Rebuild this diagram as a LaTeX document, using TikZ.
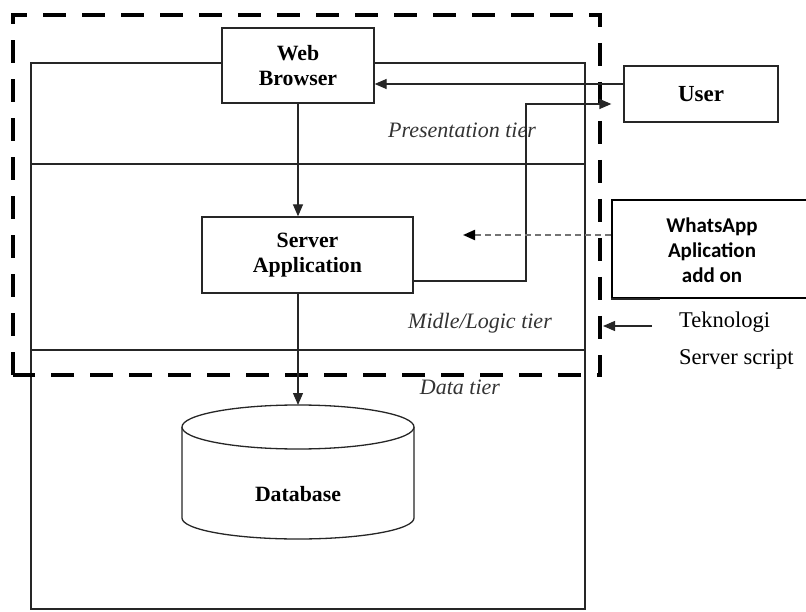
\documentclass[tikz,border=0pt]{standalone}
\usepackage{fontspec}
\setmainfont{Liberation Serif}
\newfontfamily\calib{Carlito}
\usetikzlibrary{arrows.meta}
\tikzset{
  thinln/.style={line width=1.3pt, draw=black!85},
  boxnode/.style={thinln, fill=white, inner sep=0pt, align=center,
     font=\fontsize{21.8}{25}\selectfont\bfseries},
  tierlbl/.style={font=\fontsize{22}{24}\selectfont\itshape, text=black!80, inner sep=0pt},
  arr/.style={thinln, -{Triangle[length=12pt,width=10pt]}},
  bigdash/.style={line width=4.5pt, dash pattern=on 23pt off 16pt},
}
\begin{document}
\begin{tikzpicture}[x=1pt,y=-1pt]
\useasboundingbox (0,0) rectangle (806,612);
% outer tier frame
\draw[thinln] (31,63) rectangle (585,609);
\draw[thinln] (31,164) -- (585,164);
\draw[thinln] (31,350) -- (585,350);
% dashed boundary
\draw[bigdash] (13,375) -- (13,15) -- (600,15) -- (600,375) -- cycle;
% boxes
\node[boxnode, minimum width=152pt, minimum height=75pt] (wb) at (298,65.5) {Web\\Browser};
\node[boxnode, minimum width=211pt, minimum height=76pt] (sa) at (307.5,255) {Server\\Application};
\node[boxnode, minimum width=154pt, minimum height=56pt, font=\fontsize{23}{25}\selectfont\bfseries] (user) at (701,94) {User};
\node[draw=black, line width=2pt, fill=white, minimum width=200pt, minimum height=98pt, anchor=north west, inner sep=0pt] (wa) at (611,199) {};
\node[font=\calib\fontsize{21}{25}\selectfont\bfseries, align=center] (watxt) at (712,250) {WhatsApp\\Aplication\\add on};
\draw[thinln] (611,299) -- (660,299);
% database
\draw[thinln, fill=white] (182,427) -- (182,518) arc[start angle=180, end angle=0, x radius=116, y radius=21] -- (414,427);
\draw[thinln, fill=white] (298,427) ellipse[x radius=116, y radius=22];
\coordinate (dbtop) at (298,405);
\node[font=\fontsize{21.8}{25}\selectfont\bfseries] (db) at (298,494) {Database};
% tier labels
\node[tierlbl] (pt) at (462,130) {Presentation tier};
\node[tierlbl] (mt) at (480,323) {Midle/Logic tier};
\node[tierlbl] (dt) at (460,387) {Data tier};
% Teknologi label
\node[font=\fontsize{22.5}{37}\selectfont, align=left, anchor=west, inner sep=0pt] (tek) at (679,341) {Teknologi\\Server script};
\coordinate (tekend) at (603,326);
% connectors
\draw[arr] (user.west |- 0,84) -- (wb.east |- 0,84);
\draw[arr] (wb.south) -- (wb.south |- sa.north);
\draw[arr] (wb.south |- sa.south) -- (dbtop);
\draw[arr, shorten >=12pt] (sa.east |- 0,281) -- (526,281) -- (526,104) -- (user.west |- 0,104);
\draw[line width=2pt, draw=black!55, dash pattern=on 6pt off 4pt, -{Triangle[length=12pt,width=10pt,color=black]}] (wa.west |- 0,235) -- (463,235);
\draw[arr] (652,326) -- (tekend);
\end{tikzpicture}
\end{document}
